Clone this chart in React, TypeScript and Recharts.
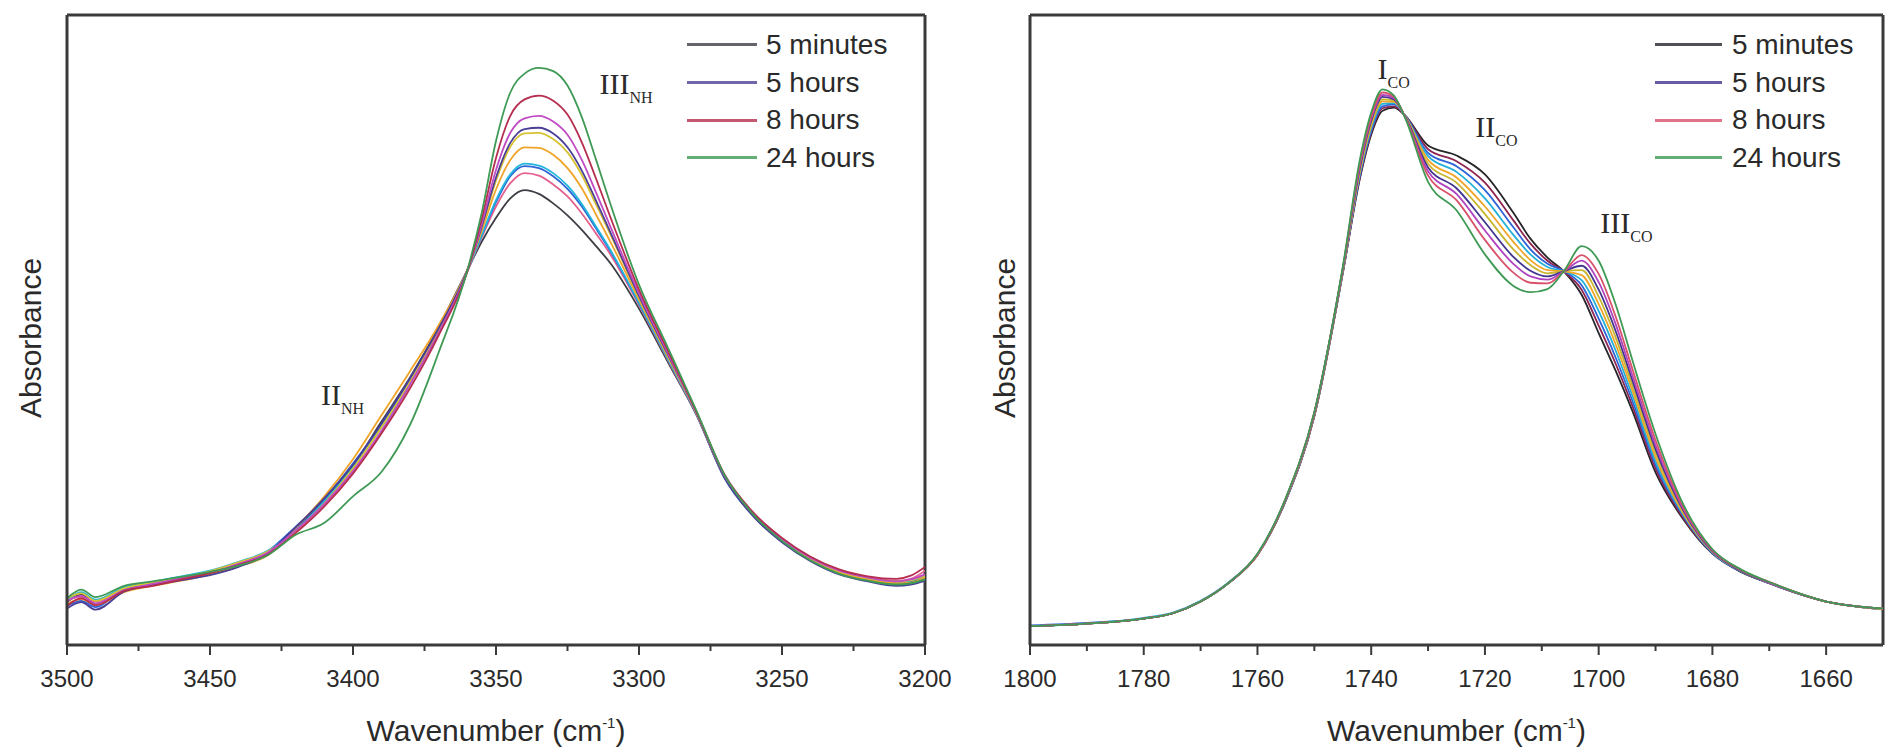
import React from 'react';
import { Legend, Line, LineChart, ReferenceDot, ReferenceLine, XAxis, YAxis } from 'recharts';

// N-H stretching region (left panel), wavenumber in cm-1, absorbance in arbitrary units
const nhWavenumbers = [
  3500, 3495, 3490, 3480, 3470, 3460, 3450, 3440, 3430, 3420, 3410, 3400, 3390, 3380, 3370, 3360, 3355, 3350, 3345,
  3340, 3335, 3330, 3325, 3320, 3315, 3310, 3300, 3290, 3280, 3270, 3260, 3250, 3240, 3230, 3220, 3210, 3205, 3200,
];
const nhDark = [6.8, 8.0, 6.5, 8.8, 9.6, 10.5, 11.4, 12.8, 14.6, 18.5, 23.0, 28.5, 35.5, 42.5, 50.5, 59.5, 64.0, 67.8, 70.9, 72.2, 71.6, 70.1, 68.2, 65.9, 63.3, 60.6, 53.4, 45.0, 36.6, 26.5, 20.8, 16.8, 13.6, 11.6, 10.5, 9.9, 10.0, 10.6];
const nhPink = [7.2, 7.6, 6.9, 8.6, 9.8, 10.4, 11.6, 13.0, 14.4, 18.0, 22.6, 28.0, 34.8, 42.0, 50.0, 59.3, 64.7, 69.6, 73.3, 74.9, 74.5, 73.1, 71.2, 68.5, 65.3, 62.0, 54.0, 45.3, 36.7, 26.6, 20.6, 16.6, 13.8, 11.9, 10.8, 10.2, 10.5, 11.8];
const nhBlue = [6.2, 7.0, 6.0, 8.9, 9.5, 10.8, 11.3, 12.6, 14.8, 18.8, 23.2, 28.8, 35.0, 42.2, 50.2, 59.6, 65.0, 70.3, 74.4, 76.0, 75.7, 74.4, 72.4, 69.6, 66.1, 62.5, 54.2, 45.5, 36.7, 26.4, 20.5, 16.4, 13.4, 11.4, 10.3, 9.6, 9.8, 10.4];
const nhCyan = [7.0, 8.4, 7.2, 9.2, 10.0, 10.9, 11.8, 13.2, 14.9, 18.3, 22.8, 28.2, 34.6, 41.6, 49.8, 59.4, 65.0, 70.6, 74.7, 76.4, 76.1, 74.9, 72.9, 70.0, 66.4, 62.7, 54.3, 45.5, 36.8, 26.8, 20.9, 16.9, 13.9, 11.8, 10.6, 10.0, 10.2, 10.9];
const nhOrange = [6.5, 7.3, 6.4, 8.4, 9.4, 10.2, 11.2, 12.5, 14.2, 18.6, 23.6, 29.5, 36.5, 43.5, 50.8, 59.6, 65.7, 72.3, 77.0, 79.0, 78.9, 77.8, 75.7, 72.5, 68.3, 64.0, 54.8, 45.8, 36.9, 26.7, 20.7, 16.7, 13.5, 11.5, 10.4, 9.8, 9.9, 10.7];
const nhOlive = [7.4, 8.2, 7.0, 9.0, 9.9, 10.7, 11.7, 13.1, 14.8, 18.1, 22.5, 28.0, 34.6, 41.8, 50.0, 59.5, 66.2, 73.7, 79.1, 81.2, 81.3, 80.3, 78.2, 74.6, 69.9, 65.2, 55.2, 46.1, 36.9, 26.6, 20.6, 16.6, 13.7, 11.7, 10.6, 10.1, 10.3, 11.0];
const nhNavy = [5.8, 6.8, 5.6, 8.5, 9.5, 10.3, 11.1, 12.4, 14.5, 18.7, 23.3, 28.6, 35.2, 42.4, 50.3, 59.5, 66.4, 74.2, 79.7, 81.9, 82.1, 81.2, 79.0, 75.3, 70.5, 65.5, 55.4, 46.2, 37.0, 26.5, 20.4, 16.3, 13.3, 11.2, 10.1, 9.4, 9.6, 10.2];
const nhMagenta = [7.0, 7.8, 6.6, 8.7, 9.7, 10.6, 11.5, 12.9, 14.6, 18.2, 22.4, 27.6, 34.0, 41.4, 49.6, 59.4, 66.8, 75.4, 81.3, 83.6, 84.0, 83.1, 81.0, 77.0, 71.8, 66.4, 55.8, 46.4, 37.0, 26.8, 20.8, 16.8, 13.8, 11.8, 10.7, 10.1, 10.4, 11.2];
const nhRed = [6.2, 7.4, 6.3, 8.6, 9.4, 10.4, 11.4, 12.7, 14.3, 17.8, 22.0, 27.2, 33.6, 40.8, 49.2, 59.3, 67.6, 77.3, 84.0, 86.6, 87.2, 86.4, 84.2, 79.8, 74.0, 67.9, 56.4, 46.8, 37.1, 27.0, 21.0, 17.0, 14.0, 12.0, 10.9, 10.5, 11.0, 12.4];
const nhGreen = [7.4, 8.8, 7.6, 9.4, 10.1, 10.8, 11.6, 12.6, 14.2, 17.5, 19.4, 23.6, 27.5, 35.0, 46.5, 59.5, 68.6, 80.0, 87.7, 90.7, 91.6, 91.1, 88.8, 83.8, 77.0, 70.0, 57.2, 47.3, 37.3, 26.9, 20.7, 16.5, 13.4, 11.3, 10.2, 9.6, 9.8, 10.4];

// C=O stretching region (right panel)
const coWavenumbers = [
  1800, 1790, 1780, 1775, 1770, 1765, 1760, 1755, 1750, 1745, 1742, 1740, 1738, 1736, 1734, 1730, 1725, 1720, 1715,
  1712, 1709, 1706, 1703, 1700, 1697, 1694, 1690, 1685, 1680, 1675, 1670, 1660, 1650,
];
const coDark = [3.0, 3.4, 4.2, 5.0, 6.9, 9.9, 14.3, 23.0, 36.3, 59.0, 74.0, 81.0, 84.8, 85.3, 84.0, 79.3, 77.7, 74.7, 68.6, 64.5, 61.5, 59.2, 55.6, 49.5, 43.5, 37.0, 27.4, 19.8, 14.5, 11.6, 9.8, 6.9, 5.7];
const coWine = [3.0, 3.4, 4.2, 5.0, 6.9, 9.9, 14.3, 23.0, 36.4, 59.1, 74.2, 81.3, 85.2, 85.5, 84.0, 78.7, 76.8, 73.4, 67.4, 63.7, 61.0, 59.2, 56.4, 50.7, 44.6, 37.8, 28.0, 20.0, 14.6, 11.7, 9.8, 6.9, 5.7];
const coBlue = [3.1, 3.5, 4.2, 5.0, 6.9, 9.9, 14.3, 23.0, 36.5, 59.2, 74.5, 81.6, 85.5, 85.8, 84.0, 78.1, 76.0, 72.2, 66.3, 62.8, 60.5, 59.3, 57.1, 51.8, 45.6, 38.6, 28.6, 20.3, 14.6, 11.7, 9.8, 6.9, 5.7];
const coCyan = [3.0, 3.4, 4.3, 5.1, 7.0, 10.0, 14.4, 23.1, 36.6, 59.3, 74.8, 82.0, 85.9, 86.0, 83.9, 77.6, 75.1, 70.9, 65.1, 62.0, 60.0, 59.3, 57.9, 53.0, 46.7, 39.4, 29.2, 20.5, 14.7, 11.7, 9.9, 6.9, 5.7];
const coOrange = [3.0, 3.4, 4.2, 5.0, 6.9, 9.9, 14.3, 23.1, 36.6, 59.4, 75.1, 82.4, 86.3, 86.2, 83.9, 77.0, 74.2, 69.6, 64.0, 61.1, 59.5, 59.3, 58.7, 54.1, 47.7, 40.2, 29.8, 20.7, 14.8, 11.8, 9.9, 6.9, 5.7];
const coOlive = [3.0, 3.4, 4.2, 5.0, 6.9, 9.9, 14.4, 23.2, 36.7, 59.5, 75.4, 82.8, 86.6, 86.4, 83.8, 76.4, 73.4, 68.4, 62.8, 60.3, 59.0, 59.4, 59.5, 55.3, 48.8, 41.0, 30.5, 21.0, 14.9, 11.8, 9.9, 6.9, 5.8];
const coNavy = [3.0, 3.4, 4.2, 5.0, 6.9, 9.9, 14.4, 23.2, 36.8, 59.6, 75.7, 83.2, 87.0, 86.6, 83.8, 75.8, 72.5, 67.1, 61.6, 59.4, 58.5, 59.4, 60.2, 56.4, 49.8, 41.8, 31.1, 21.2, 14.9, 11.8, 9.9, 6.9, 5.8];
const coMagenta = [3.0, 3.4, 4.2, 5.0, 6.9, 9.9, 14.4, 23.3, 36.8, 59.7, 76.1, 83.5, 87.3, 86.8, 83.7, 75.2, 71.6, 65.8, 60.5, 58.5, 58.0, 59.4, 61.0, 57.6, 50.9, 42.6, 31.7, 21.4, 15.0, 11.9, 9.9, 6.9, 5.8];
const coRed = [3.0, 3.4, 4.2, 5.0, 6.9, 9.9, 14.4, 23.3, 36.9, 59.8, 76.5, 83.9, 87.7, 87.0, 83.7, 74.5, 70.6, 64.3, 59.1, 57.5, 57.4, 59.4, 61.9, 58.9, 52.1, 43.6, 32.5, 21.7, 15.1, 11.9, 10.0, 6.9, 5.8];
const coGreen = [3.0, 3.4, 4.2, 5.0, 6.9, 9.9, 14.5, 23.4, 37.0, 60.0, 77.0, 84.5, 88.2, 87.2, 83.6, 73.5, 69.0, 62.0, 57.0, 56.0, 56.5, 59.5, 63.3, 61.0, 54.0, 45.0, 33.5, 22.1, 15.2, 12.0, 10.0, 6.9, 5.8];

const legendOrder = ['5 minutes', '5 hours', '8 hours', '24 hours'];

const nhTicks = [3500, 3475, 3450, 3425, 3400, 3375, 3350, 3325, 3300, 3275, 3250, 3225, 3200];
const coTicks = [1800, 1790, 1780, 1770, 1760, 1750, 1740, 1730, 1720, 1710, 1700, 1690, 1680, 1670, 1660];

const nhLabels = [
  { main: 'III', sub: 'NH', w: 3313.8, a: 87.5 },
  { main: 'II', sub: 'NH', w: 3411.2, a: 38.1 },
];
const coLabels = [
  { main: 'I', sub: 'CO', w: 1738.9, a: 89.8 },
  { main: 'II', sub: 'CO', w: 1721.7, a: 80.6 },
  { main: 'III', sub: 'CO', w: 1699.7, a: 65.4 },
];

type Series = { key: string; name?: string; color: string; values: number[] };

const nhSeries: Series[] = [
  { key: 's0', name: '5 minutes', color: '#3d3d45', values: nhDark },
  { key: 's1', color: '#e4608f', values: nhPink },
  { key: 's2', color: '#2f63d8', values: nhBlue },
  { key: 's3', color: '#22b6dc', values: nhCyan },
  { key: 's4', color: '#f0a428', values: nhOrange },
  { key: 's5', color: '#d6c233', values: nhOlive },
  { key: 's6', name: '5 hours', color: '#4a3f96', values: nhNavy },
  { key: 's7', color: '#c04bc4', values: nhMagenta },
  { key: 's8', name: '8 hours', color: '#b52d4f', values: nhRed },
  { key: 's9', name: '24 hours', color: '#3f9a55', values: nhGreen },
];

const coSeries: Series[] = [
  { key: 's0', name: '5 minutes', color: '#26262a', values: coDark },
  { key: 's1', color: '#8e2450', values: coWine },
  { key: 's2', color: '#2f63d8', values: coBlue },
  { key: 's3', color: '#22b0d8', values: coCyan },
  { key: 's4', color: '#f0a428', values: coOrange },
  { key: 's5', color: '#c9b630', values: coOlive },
  { key: 's6', name: '5 hours', color: '#41358f', values: coNavy },
  { key: 's7', color: '#b044c0', values: coMagenta },
  { key: 's8', name: '8 hours', color: '#d8506a', values: coRed },
  { key: 's9', name: '24 hours', color: '#3f9a55', values: coGreen },
];

function buildRows(wavenumbers: number[], series: Series[]) {
  return wavenumbers.map((w, i) => {
    const row: Record<string, number> = { w };
    series.forEach((s) => {
      row[s.key] = s.values[i];
    });
    return row;
  });
}

const AXIS = '#3a3a3a';
const SANS = "'Liberation Sans', Arial, sans-serif";
const SERIF = "'Liberation Serif', 'Times New Roman', serif";

function makeTick(majorStep: number) {
  return function AxisTick(props: any) {
    const { x, y, payload } = props;
    const isMajor = payload.value % majorStep === 0;
    return (
      <g>
        <line x1={x} x2={x} y1={y} y2={y + (isMajor ? 10 : 6)} stroke={AXIS} strokeWidth={2} />
        {isMajor && (
          <text x={x} y={y + 42} textAnchor="middle" fontFamily={SANS} fontSize={24} fill="#2a2a2a">
            {payload.value}
          </text>
        )}
      </g>
    );
  };
}

function XTitle(props: any) {
  const { viewBox } = props;
  if (!viewBox) return null;
  return (
    <text x={viewBox.x + viewBox.width / 2} y={viewBox.y + 96} textAnchor="middle" fontFamily={SANS} fontSize={30} fill="#2a2a2a">
      Wavenumber (cm
      <tspan dy={-13} fontSize={15}>
        -1
      </tspan>
      <tspan dy={13}>)</tspan>
    </text>
  );
}

function makeYTitle(baseline: number) {
  return function YTitle(props: any) {
    const { viewBox } = props;
    if (!viewBox) return null;
    const cx = viewBox.x + baseline;
    const cy = viewBox.y + viewBox.height / 2 + 8;
    return (
      <text x={cx} y={cy} transform={`rotate(-90, ${cx}, ${cy})`} textAnchor="middle" fontFamily={SANS} fontSize={30} fill="#2a2a2a">
        Absorbance
      </text>
    );
  };
}

function makePeakTag(main: string, sub: string) {
  return function PeakTag(props: any) {
    const { viewBox } = props;
    if (!viewBox) return null;
    const x = viewBox.x + (viewBox.width ?? 0) / 2;
    const y = viewBox.y + (viewBox.height ?? 0) / 2;
    return (
      <text x={x} y={y} fontFamily={SERIF} fontSize={30} fill="#2a2a2a">
        {main}
        <tspan dy={9} fontSize={16}>
          {sub}
        </tspan>
      </text>
    );
  };
}

function makeLegend(lineWidth: number, gap: number) {
  return function SpectraLegend(props: any) {
    const items = (props.payload ?? [])
      .filter((it: any) => legendOrder.includes(it.value))
      .sort((a: any, b: any) => legendOrder.indexOf(a.value) - legendOrder.indexOf(b.value));
    return (
      <div style={{ fontFamily: SANS, fontSize: 28, color: '#2a2a2a' }}>
        {items.map((it: any) => (
          <div key={it.value} style={{ display: 'flex', alignItems: 'center', height: 37.7, whiteSpace: 'nowrap' }}>
            <span style={{ display: 'inline-block', width: lineWidth, borderTop: `3px solid ${it.color}`, marginRight: gap, opacity: 0.8 }} />
            <span>{it.value}</span>
          </div>
        ))}
      </div>
    );
  };
}

type PanelProps = {
  width: number;
  rows: Record<string, number>[];
  series: Series[];
  domain: [number, number];
  ticks: number[];
  majorStep: number;
  yWidth: number;
  marginRight: number;
  titleBaseline: number;
  legendLeft: number;
  legendLine: number;
  legendGap: number;
  labels: { main: string; sub: string; w: number; a: number }[];
};

function SpectrumPanel(p: PanelProps) {
  const frame = { stroke: AXIS, strokeWidth: 3 };
  return (
    <LineChart width={p.width} height={753} data={p.rows} margin={{ top: 15, right: p.marginRight, bottom: 0, left: 0 }}>
      <XAxis
        xAxisId="b"
        type="number"
        dataKey="w"
        domain={p.domain}
        reversed
        allowDataOverflow
        ticks={p.ticks}
        interval={0}
        tickSize={0}
        tickMargin={0}
        tickLine={false}
        tick={makeTick(p.majorStep)}
        axisLine={frame}
        height={108}
        label={XTitle}
      />
      <YAxis
        yAxisId="l"
        type="number"
        domain={[0, 100]}
        allowDataOverflow
        tick={false}
        tickLine={false}
        axisLine={frame}
        width={p.yWidth}
        label={makeYTitle(p.titleBaseline)}
      />
      <ReferenceLine xAxisId="b" yAxisId="l" y={100} stroke={AXIS} strokeWidth={3} />
      <ReferenceLine xAxisId="b" yAxisId="l" x={p.domain[0]} stroke={AXIS} strokeWidth={3} />
      <Legend
        layout="vertical"
        align="center"
        verticalAlign="middle"
        content={makeLegend(p.legendLine, p.legendGap)}
        wrapperStyle={{ left: p.legendLeft, top: 26, width: 'auto', height: 'auto' }}
      />
      {p.series.map((s) => (
        <Line
          key={s.key}
          xAxisId="b"
          yAxisId="l"
          type="monotone"
          dataKey={s.key}
          name={s.name ?? s.key}
          stroke={s.color}
          strokeWidth={1.8}
          dot={false}
          activeDot={false}
          legendType={s.name ? 'line' : 'none'}
          isAnimationActive={false}
        />
      ))}
      {p.labels.map((l) => (
        <ReferenceDot
          key={l.main + l.sub}
          xAxisId="b"
          yAxisId="l"
          x={l.w}
          y={l.a}
          r={0.01}
          fill="none"
          stroke="none"
          label={makePeakTag(l.main, l.sub)}
        />
      ))}
    </LineChart>
  );
}

export default function App() {
  return (
    <div style={{ position: 'absolute', left: 0, top: 0, width: 1887, height: 753, background: '#fff', overflow: 'hidden' }}>
      <style>{'.recharts-surface { overflow: visible; }'}</style>
      <div style={{ position: 'absolute', left: 0, top: 0 }}>
        <SpectrumPanel
          width={940}
          rows={buildRows(nhWavenumbers, nhSeries)}
          series={nhSeries}
          domain={[3200, 3500]}
          ticks={nhTicks}
          majorStep={50}
          yWidth={67}
          marginRight={15}
          titleBaseline={41}
          legendLeft={687}
          legendLine={70}
          legendGap={9}
          labels={nhLabels}
        />
      </div>
      <div style={{ position: 'absolute', left: 940, top: 0 }}>
        <SpectrumPanel
          width={947}
          rows={buildRows(coWavenumbers, coSeries)}
          series={coSeries}
          domain={[1650, 1800]}
          ticks={coTicks}
          majorStep={20}
          yWidth={90}
          marginRight={4}
          titleBaseline={75}
          legendLeft={715}
          legendLine={67}
          legendGap={10}
          labels={coLabels}
        />
      </div>
    </div>
  );
}
